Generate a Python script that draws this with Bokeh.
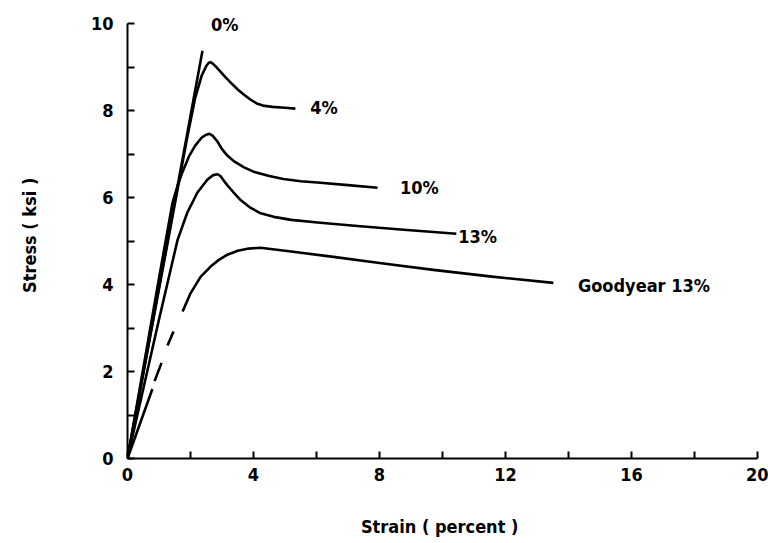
from bokeh.plotting import figure
from bokeh.models import Range1d, FixedTicker, Label
from bokeh.embed import file_html
from bokeh.resources import INLINE

# Data (strain %, stress ksi)
s0_x = [0, 2.38]
s0_y = [0, 9.38]

s4_x = [0, 1.0, 1.9, 2.15, 2.35, 2.5, 2.57, 2.63, 2.7, 2.8, 2.95, 3.1, 3.3, 3.5, 3.7, 3.9, 4.1, 4.3, 4.6, 5.0, 5.33]
s4_y = [0, 3.9, 7.4, 8.3, 8.8, 9.03, 9.1, 9.12, 9.09, 9.02, 8.9, 8.78, 8.63, 8.49, 8.37, 8.26, 8.17, 8.12, 8.09, 8.07, 8.05]

s10_x = [0, 1.0, 1.43, 1.6, 1.75, 1.95, 2.15, 2.35, 2.5, 2.6, 2.7, 2.85, 3.0, 3.17, 3.4, 3.7, 4.0, 4.5, 4.95, 5.5, 6.03, 7.0, 7.94]
s10_y = [0, 4.15, 5.89, 6.3, 6.6, 6.95, 7.2, 7.38, 7.45, 7.47, 7.43, 7.3, 7.12, 6.97, 6.83, 6.7, 6.6, 6.5, 6.43, 6.38, 6.35, 6.29, 6.23]

s13_x = [0, 1.0, 1.59, 1.9, 2.22, 2.54, 2.72, 2.86, 2.95, 3.05, 3.2, 3.37, 3.6, 3.9, 4.2, 4.64, 5.2, 6.03, 7.3, 8.67, 10.44]
s13_y = [0, 3.2, 5.03, 5.66, 6.12, 6.42, 6.52, 6.54, 6.5, 6.4, 6.26, 6.12, 5.94, 5.77, 5.65, 5.56, 5.49, 5.43, 5.35, 5.27, 5.17]

# Goodyear: solid parts and the broken (dashed) part
gy_x = [1.75, 2.0, 2.32, 2.63, 2.9, 3.17, 3.5, 3.85, 4.22, 5.0, 6.54, 8.0, 9.71, 11.5, 13.52]
gy_y = [3.38, 3.8, 4.18, 4.41, 4.57, 4.69, 4.78, 4.83, 4.85, 4.78, 4.64, 4.5, 4.34, 4.19, 4.04]
gy_start_x = [0, 0.79]
gy_start_y = [0, 1.6]
gy_dash_x = [[0.86, 1.08], [1.27, 1.46]]
gy_dash_y = [[1.78, 2.2], [2.6, 2.92]]

label_text = ["0%", "4%", "10%", "13%", "Goodyear  13%"]
label_x = [2.65, 5.8, 8.65, 10.5, 14.3]
label_y = [9.98, 8.08, 6.24, 5.1, 3.97]

x_ticks = [0, 4, 8, 12, 16, 20]
x_minor = [2, 6, 10, 14, 18]
y_ticks = [0, 2, 4, 6, 8, 10]
y_minor = [1, 3, 5, 7, 9]

FONT = "'DejaVu Sans Condensed', 'Liberation Sans Narrow', 'Roboto Condensed', Roboto, sans-serif"

p = figure(width=768, height=543, output_backend="svg", toolbar_location=None,
           x_range=Range1d(0, 20), y_range=Range1d(0, 10.4),
           min_border_left=127, min_border_right=11, min_border_top=6, min_border_bottom=85)
p.outline_line_color = None
p.grid.visible = False
p.background_fill_color = "white"

for ax in (p.xaxis[0], p.yaxis[0]):
    ax.axis_line_width = 2
    ax.axis_line_color = "black"
    ax.major_tick_in = 7
    ax.major_tick_out = 0
    ax.minor_tick_in = 7
    ax.minor_tick_out = 0
    ax.major_tick_line_width = 2
    ax.minor_tick_line_width = 2
    ax.major_label_text_font = FONT
    ax.major_label_text_font_style = "bold"
    ax.major_label_text_font_size = "18px"
    ax.major_label_text_color = "black"
    ax.axis_label_text_font = FONT
    ax.axis_label_text_font_style = "bold"
    ax.axis_label_text_font_size = "18px"
    ax.axis_label_text_color = "black"

p.yaxis.bounds = (0, 10)
p.xaxis.ticker = FixedTicker(ticks=x_ticks, minor_ticks=x_minor)
p.yaxis.ticker = FixedTicker(ticks=y_ticks, minor_ticks=y_minor)
p.xaxis.axis_label = "Strain  ( percent )"
p.yaxis.axis_label = "Stress  ( ksi )"
p.xaxis.major_label_standoff = 9
p.yaxis.major_label_standoff = 14
p.xaxis.axis_label_standoff = 32
p.yaxis.axis_label_standoff = 48

lw = 2.6
for xs, ys in [(s0_x, s0_y), (s4_x, s4_y), (s10_x, s10_y), (s13_x, s13_y)]:
    p.line(xs, ys, line_color="black", line_width=lw, line_join="round")

p.line(gy_start_x, gy_start_y, line_color="black", line_width=lw)
p.multi_line(gy_dash_x, gy_dash_y, line_color="black", line_width=lw)
p.line(gy_x, gy_y, line_color="black", line_width=lw, line_join="round")

for t, lx, ly in zip(label_text, label_x, label_y):
    p.add_layout(Label(x=lx, y=ly, text=t, text_font=FONT, text_font_style="bold",
                       text_font_size="18px", text_baseline="middle", text_align="left",
                       text_color="black"))

open("out.html", "w").write(file_html(p, INLINE))
